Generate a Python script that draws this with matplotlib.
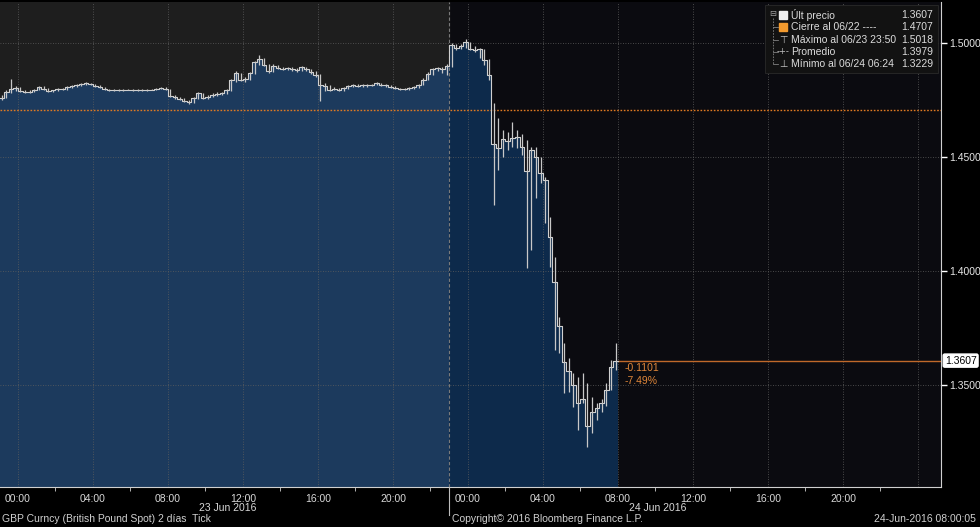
#!/usr/bin/env python3
import numpy as np
import matplotlib
matplotlib.use('Agg')
import matplotlib.pyplot as plt
from matplotlib.lines import Line2D
from matplotlib.patches import Rectangle

plt.rcParams['font.family'] = ['Liberation Sans', 'DejaVu Sans']

# GBP spot, 15-minute bars starting 23:00 22 Jun 2016 (hours since 00:00 23 Jun)
bar_start = -1.0
bar_len = 0.25
close = [1.4760, 1.4786, 1.4800, 1.4803, 1.4790, 1.4786, 1.4786, 1.4795, 1.4808, 1.4800,
         1.4790, 1.4792, 1.4798, 1.4798, 1.4805, 1.4812, 1.4816, 1.4820, 1.4825, 1.4820,
         1.4812, 1.4806, 1.4798, 1.4794, 1.4794, 1.4795, 1.4794, 1.4795, 1.4794, 1.4793,
         1.4794, 1.4795, 1.4796, 1.4800, 1.4803, 1.4798, 1.4768, 1.4762, 1.4755, 1.4745,
         1.4740, 1.4758, 1.4780, 1.4760, 1.4765, 1.4772, 1.4778, 1.4780, 1.4794, 1.4836,
         1.4870, 1.4838, 1.4842, 1.4868, 1.4915, 1.4932, 1.4905, 1.4876, 1.4900, 1.4890,
         1.4886, 1.4890, 1.4884, 1.4880, 1.4895, 1.4884, 1.4872, 1.4860, 1.4818, 1.4812,
         1.4796, 1.4800, 1.4794, 1.4803, 1.4810, 1.4816, 1.4812, 1.4816, 1.4814, 1.4818,
         1.4824, 1.4818, 1.4814, 1.4808, 1.4802, 1.4798, 1.4800, 1.4804, 1.4806, 1.4818,
         1.4840, 1.4866, 1.4884, 1.4890, 1.4886, 1.4900, 1.4990, 1.4978, 1.4985, 1.5005,
         1.4975, 1.4968, 1.4972, 1.4925, 1.4860, 1.4555, 1.4540, 1.4580, 1.4570, 1.4585,
         1.4590, 1.4545, 1.4440, 1.4530, 1.4500, 1.4430, 1.4400, 1.4150, 1.3950, 1.3760,
         1.3600, 1.3560, 1.3500, 1.3420, 1.3440, 1.3320, 1.3380, 1.3400, 1.3420, 1.3480,
         1.3580, 1.3607]
high = [1.4770, 1.4792, 1.4842, 1.4810, 1.4805, 1.4792, 1.4792, 1.4800, 1.4812, 1.4810,
        1.4802, 1.4796, 1.4802, 1.4803, 1.4810, 1.4818, 1.4820, 1.4824, 1.4830, 1.4826,
        1.4822, 1.4814, 1.4808, 1.4800, 1.4798, 1.4798, 1.4797, 1.4798, 1.4797, 1.4797,
        1.4797, 1.4798, 1.4800, 1.4803, 1.4806, 1.4805, 1.4800, 1.4772, 1.4765, 1.4758,
        1.4750, 1.4764, 1.4786, 1.4780, 1.4772, 1.4780, 1.4784, 1.4786, 1.4800, 1.4842,
        1.4876, 1.4868, 1.4850, 1.4874, 1.4920, 1.4947, 1.4935, 1.4906, 1.4908, 1.4904,
        1.4896, 1.4896, 1.4894, 1.4890, 1.4900, 1.4897, 1.4886, 1.4876, 1.4862, 1.4826,
        1.4815, 1.4808, 1.4804, 1.4808, 1.4815, 1.4822, 1.4820, 1.4820, 1.4819, 1.4822,
        1.4830, 1.4826, 1.4822, 1.4816, 1.4810, 1.4804, 1.4804, 1.4808, 1.4812, 1.4822,
        1.4846, 1.4872, 1.4890, 1.4896, 1.4894, 1.4906, 1.4998, 1.4994, 1.4995, 1.5018,
        1.5006, 1.4985, 1.4980, 1.4972, 1.4930, 1.4737, 1.4671, 1.4618, 1.4610, 1.4653,
        1.4620, 1.4600, 1.4575, 1.4545, 1.4544, 1.4500, 1.4412, 1.4237, 1.4061, 1.3798,
        1.3684, 1.3620, 1.3553, 1.3535, 1.3553, 1.3509, 1.3447, 1.3421, 1.3440, 1.3509,
        1.3610, 1.3684]
low = [1.4752, 1.4760, 1.4780, 1.4790, 1.4785, 1.4780, 1.4780, 1.4784, 1.4792, 1.4795,
       1.4786, 1.4786, 1.4790, 1.4793, 1.4796, 1.4803, 1.4808, 1.4812, 1.4816, 1.4814,
       1.4808, 1.4802, 1.4794, 1.4791, 1.4791, 1.4791, 1.4791, 1.4792, 1.4791, 1.4790,
       1.4790, 1.4791, 1.4792, 1.4794, 1.4797, 1.4794, 1.4762, 1.4756, 1.4750, 1.4740,
       1.4734, 1.4738, 1.4755, 1.4754, 1.4756, 1.4762, 1.4768, 1.4772, 1.4778, 1.4790,
       1.4830, 1.4832, 1.4830, 1.4838, 1.4862, 1.4905, 1.4898, 1.4868, 1.4872, 1.4884,
       1.4880, 1.4882, 1.4878, 1.4874, 1.4878, 1.4878, 1.4866, 1.4850, 1.4745, 1.4790,
       1.4788, 1.4792, 1.4788, 1.4790, 1.4798, 1.4806, 1.4806, 1.4808, 1.4808, 1.4810,
       1.4814, 1.4812, 1.4808, 1.4804, 1.4798, 1.4794, 1.4794, 1.4796, 1.4800, 1.4802,
       1.4815, 1.4836, 1.4860, 1.4876, 1.4870, 1.4860, 1.4895, 1.4970, 1.4972, 1.4980,
       1.4968, 1.4960, 1.4935, 1.4905, 1.4840, 1.4290, 1.4443, 1.4500, 1.4530, 1.4545,
       1.4540, 1.4510, 1.4013, 1.4092, 1.4320, 1.4386, 1.4210, 1.4018, 1.3654, 1.3640,
       1.3465, 1.3470, 1.3404, 1.3303, 1.3421, 1.3229, 1.3290, 1.3346, 1.3380, 1.3410,
       1.3480, 1.3566]

prev_close = 1.4707
last_price = 1.3607
session_break = 23.0

hour_ticks = list(range(0, 45, 4))
hour_labels = ['00:00', '04:00', '08:00', '12:00', '16:00', '20:00'] * 2
price_ticks = [1.35, 1.40, 1.45, 1.50]

legend_rows = [('Últ precio', '1.3607'),
               ('Cierre al 06/22 ----', '1.4707'),
               ('Máximo al 06/23 23:50', '1.5018'),
               ('Promedio', '1.3979'),
               ('Mínimo al 06/24 06:24', '1.3229')]

W, H = 980, 527
fig = plt.figure(figsize=(W/100, H/100), dpi=100, facecolor='black')
ax = fig.add_axes([0, 40/H, 941/W, 485/H])
ax.set_facecolor('#0b0b10')

t = bar_start + bar_len*np.arange(len(close))
nsplit = int(np.searchsorted(t, session_break))
xlim = (-0.96, 49.23)
ylim = (1.30526, 1.5180)

# gray background for the first session
ax.axvspan(xlim[0], session_break, color='#1e1e1e', zorder=0)

xl = np.append(t[:nsplit], session_break)
yl = np.append(close[:nsplit], close[nsplit-1])
xr = np.append(t[nsplit:], t[-1] + bar_len)
yr = np.append(close[nsplit:], close[-1])
ax.fill_between(xl, yl, ylim[0], step='post', color='#1c3a5d', lw=0, zorder=1)
ax.fill_between(xr, yr, ylim[0], step='post', color='#0d2a4b', lw=0, zorder=1)

# grid
for h in range(0, 49, 4):
    ax.axvline(h, color='#5e5e5e', ls=(0, (1, 2)), lw=0.6, zorder=2)
for p in price_ticks:
    ax.axhline(p, color='#5e5e5e', ls=(0, (1, 2)), lw=0.6, zorder=2)

# bars
xa = np.append(t, t[-1] + bar_len)
ya = np.append(close, close[-1])
ax.plot(xa, ya, drawstyle='steps-post', color='#d0d0d0', lw=0.8, zorder=4)
ax.vlines(t + bar_len/2, low, high, color='#c8c8c8', lw=0.9, zorder=4)

ax.axhline(prev_close, color='#e07a22', ls=(0, (1.2, 1.2)), lw=1.0, zorder=3)
ax.plot([t[-1] + bar_len, xlim[1]], [last_price, last_price], color='#c0692a', lw=1.0, zorder=3)
ax.axvline(session_break, color='#7a7a7a', ls=(0, (3, 2)), lw=0.8, zorder=3)

ax.text(32.35, 1.3575, '-0.1101', color='#e0873a', fontsize=7.5, va='center')
ax.text(32.35, 1.3518, '-7.49%', color='#e0873a', fontsize=7.5, va='center')

ax.set_xlim(*xlim)
ax.set_ylim(*ylim)
for s in ['left', 'top']:
    ax.spines[s].set_visible(False)
ax.spines['right'].set_color('#d0d0d0')
ax.spines['bottom'].set_color('#d0d0d0')

ax.yaxis.tick_right()
ax.set_yticks(price_ticks)
ax.set_yticklabels(['%.4f' % p for p in price_ticks])
ax.tick_params(axis='y', direction='out', length=4, width=1, colors='white',
               labelcolor='#e6e6e6', labelsize=7.5, pad=2)
ax.set_xticks(hour_ticks)
ax.set_xticklabels(hour_labels)
ax.set_xticks(list(range(2, 47, 4)), minor=True)
ax.tick_params(axis='x', which='major', length=0, labelcolor='#d8d8d8', labelsize=7.5, pad=5)
ax.tick_params(axis='x', which='minor', length=3, color='#d0d0d0')

ax.text(1.004, last_price, '1.3607', transform=ax.get_yaxis_transform(), color='black',
        fontsize=7.5, va='center', ha='left',
        bbox=dict(boxstyle='round,pad=0.15', fc='white', ec='white'))

# below-axis line at session break
fig.add_artist(Line2D([449/W, 449/W], [1 - 487/H, 1 - 515/H], color='#bdbdbd', lw=0.8))

def fx(px):
    return px / W

def fy(py):
    return 1 - py / H

fig.text(fx(228), fy(508), '23 Jun 2016', color='#d8d8d8', fontsize=7.5, ha='center', va='center')
fig.text(fx(658), fy(508), '24 Jun 2016', color='#d8d8d8', fontsize=7.5, ha='center', va='center')
fig.text(fx(2), fy(519), 'GBP Curncy (British Pound Spot) 2 días  Tick', color='#d0d0d0',
         fontsize=7.5, ha='left', va='center')
fig.text(fx(452), fy(519), 'Copyright© 2016 Bloomberg Finance L.P.', color='#d0d0d0',
         fontsize=7.5, ha='left', va='center')
fig.text(fx(976), fy(519), '24-Jun-2016 08:00:05', color='#d0d0d0',
         fontsize=7.5, ha='right', va='center')

# legend box
fig.add_artist(Rectangle((fx(765), fy(73)), (938-765)/W, (73-5)/H, transform=fig.transFigure,
                         fc='#121212', ec='#2a2a2a', lw=0.6))
row_y = [15, 27, 40, 52, 64]
fig.text(fx(773), fy(14), '⊟', color='#a0a0a0', fontsize=6, ha='center', va='center',
         family='DejaVu Sans')
fig.add_artist(Line2D([fx(773), fx(773)], [fy(18), fy(64)], color='#808080', lw=0.6, ls=(0, (2, 1.5))))
for yy in row_y[1:]:
    fig.add_artist(Line2D([fx(773), fx(778)], [fy(yy), fy(yy)], color='#808080', lw=0.6))
fig.add_artist(Rectangle((fx(779), fy(19)), 8/W, 8/H, transform=fig.transFigure,
                         fc='#f0f0f0', ec='#f0f0f0'))
fig.add_artist(Rectangle((fx(779), fy(31)), 8/W, 8/H, transform=fig.transFigure,
                         fc='#f29a2e', ec='#f29a2e'))
fig.text(fx(783), fy(40), '⊤', color='#c0c0c0', fontsize=7, ha='center', va='center',
         family='DejaVu Sans')
fig.text(fx(783), fy(52), '-+-', color='#c0c0c0', fontsize=6, ha='center', va='center',
         family='DejaVu Sans')
fig.text(fx(783), fy(64), '⊥', color='#c0c0c0', fontsize=7, ha='center', va='center',
         family='DejaVu Sans')
for (lab, val), yy in zip(legend_rows, row_y):
    fig.text(fx(791), fy(yy), lab, color='#dcdcdc', fontsize=7.5, ha='left', va='center')
    fig.text(fx(933), fy(yy), val, color='#dcdcdc', fontsize=7.5, ha='right', va='center')

fig.savefig('out.png', dpi=100, facecolor='black')
